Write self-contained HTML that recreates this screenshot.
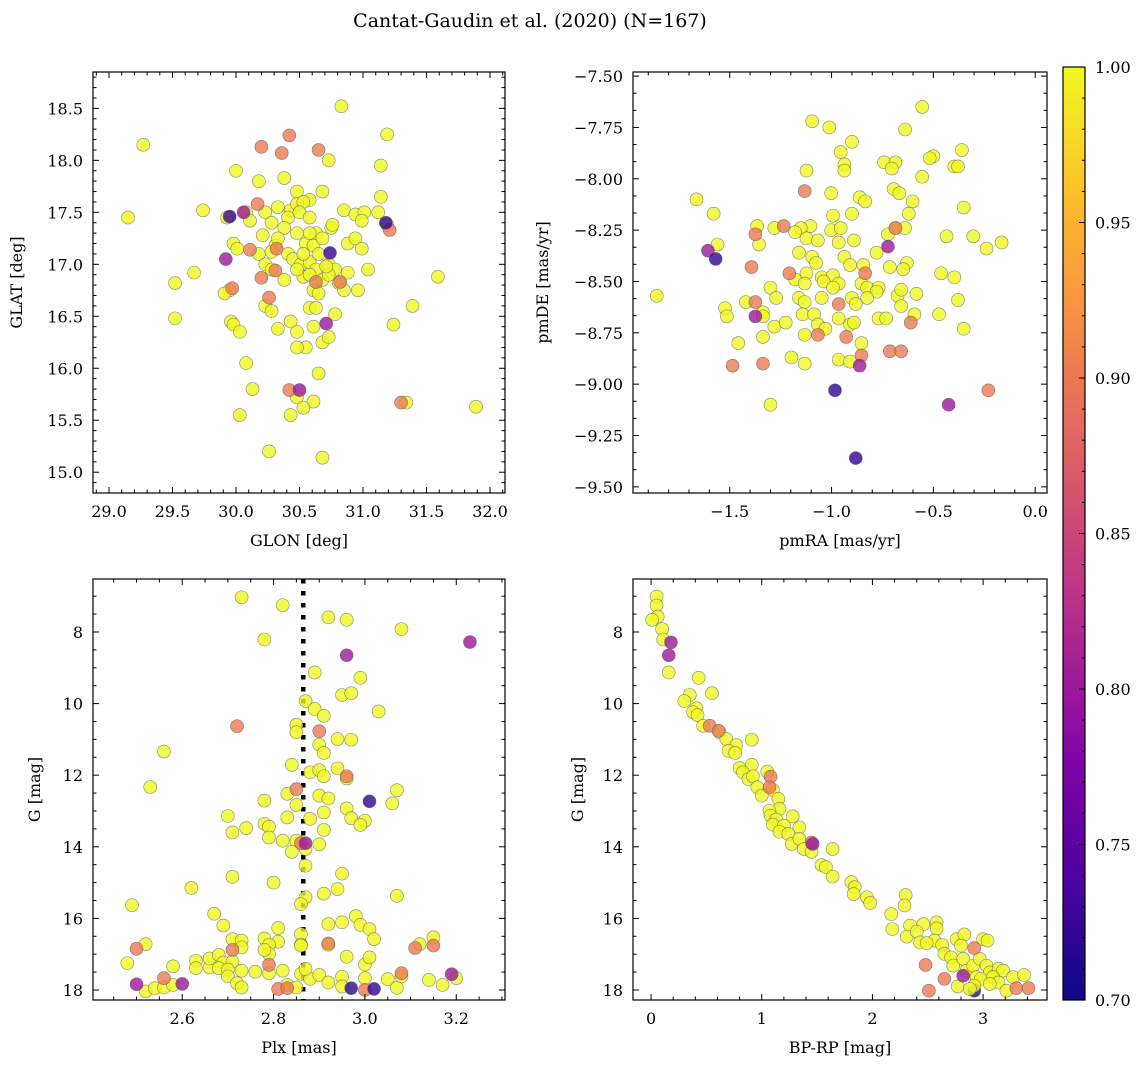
<!DOCTYPE html>
<html><head><meta charset="utf-8"><style>
html,body{margin:0;padding:0;background:#fff}
svg{display:block;font-family:"DejaVu Serif","Liberation Serif",serif}
</style></head><body>
<svg id="fig" width="1148" height="1067" viewBox="0 0 1148 1067" xmlns="http://www.w3.org/2000/svg">
<defs>
<linearGradient id="plasmaGrad" x1="0" y1="1" x2="0" y2="0">
<stop offset="0" stop-color="#0d0887"/><stop offset="0.125" stop-color="#4c02a1"/><stop offset="0.25" stop-color="#7e03a8"/><stop offset="0.375" stop-color="#a92395"/><stop offset="0.5" stop-color="#cc4778"/><stop offset="0.625" stop-color="#e56b5d"/><stop offset="0.75" stop-color="#f89540"/><stop offset="0.875" stop-color="#fdc328"/><stop offset="1" stop-color="#f0f921"/>
</linearGradient>
</defs>
<text x="530" y="27" font-size="19" text-anchor="middle">Cantat-Gaudin et al. (2020) (N=167)</text>
</svg>
<script>
// ---------- data ----------
const probHigh = 1.0, probMid = 0.9, probLow = 0.8, probVeryLow = 0.72;
const skyHigh = [[30.83,18.52],[29.27,18.15],[31.19,18.25],[30.73,18.0],[31.14,17.95],[30.0,17.9],[30.18,17.8],[30.38,17.83],[30.48,17.7],[30.68,17.7],[30.58,17.62],[31.14,17.65],[29.74,17.52],[29.15,17.45],[30.23,17.5],[30.33,17.55],[30.43,17.52],[30.48,17.58],[30.53,17.6],[30.41,17.45],[30.5,17.5],[30.58,17.45],[30.85,17.52],[30.94,17.48],[31.01,17.5],[31.12,17.5],[30.99,17.42],[31.19,17.38],[30.75,17.35],[30.63,17.3],[30.28,17.4],[30.38,17.35],[30.48,17.3],[30.55,17.2],[30.61,17.18],[30.68,17.25],[29.98,17.2],[30.01,17.15],[30.31,17.18],[30.41,17.1],[30.45,17.05],[30.51,17.0],[30.58,17.02],[30.63,16.95],[30.65,17.1],[30.73,17.0],[30.78,16.95],[30.88,17.2],[30.94,17.25],[30.99,17.15],[30.33,17.25],[30.18,17.1],[30.23,17.0],[30.28,16.95],[30.38,16.85],[30.53,16.88],[30.58,16.9],[30.68,16.85],[30.73,16.9],[30.81,16.82],[30.85,16.75],[30.96,16.75],[30.61,16.75],[30.65,16.72],[29.52,16.82],[29.67,16.92],[29.95,16.75],[29.91,16.72],[30.23,16.6],[30.28,16.55],[30.58,16.58],[30.63,16.58],[30.78,16.52],[31.24,16.42],[31.39,16.6],[29.52,16.48],[29.96,16.45],[29.98,16.42],[30.03,16.35],[30.33,16.38],[30.43,16.45],[30.48,16.35],[30.61,16.4],[30.55,16.2],[30.48,16.2],[30.68,16.25],[30.73,16.3],[30.08,16.05],[30.65,15.95],[30.13,15.8],[30.61,15.68],[30.48,15.72],[30.53,15.62],[31.34,15.67],[31.89,15.63],[30.03,15.55],[30.43,15.55],[30.26,15.2],[30.68,15.14],[30.76,17.38],[30.08,17.5],[31.59,16.88],[30.88,16.92],[31.04,16.95],[29.93,17.45],[30.11,17.42],[30.21,17.28],[30.28,17.12],[30.48,16.95],[30.53,17.1],[30.71,16.98],[30.58,17.3]];
const skyMid = [[30.2,18.13],[30.42,18.24],[30.36,18.07],[30.65,18.10],[30.17,17.58],[31.21,17.33],[30.11,17.14],[30.32,17.15],[30.31,16.94],[30.2,16.87],[29.97,16.77],[30.26,16.68],[30.82,16.83],[30.63,16.83],[30.42,15.79],[31.3,15.67]];
const skyLow = [[30.06,17.5],[29.92,17.05],[30.71,16.43],[30.5,15.79]];
const skyVeryLow = [[29.95,17.46],[30.74,17.11],[31.18,17.40]];

const pmHigh = [[-0.555,-7.65],[-1.095,-7.72],[-1.011,-7.75],[-0.639,-7.76],[-0.900,-7.82],[-0.955,-7.87],[-0.360,-7.86],[-0.500,-7.89],[-0.518,-7.90],[-0.742,-7.92],[-0.686,-7.92],[-0.937,-7.93],[-0.704,-7.95],[-0.937,-7.96],[-0.397,-7.94],[-0.379,-7.94],[-1.123,-7.96],[-0.555,-7.99],[-0.695,-8.05],[-0.667,-8.07],[-1.002,-8.07],[-1.663,-8.10],[-0.862,-8.09],[-0.835,-8.11],[-0.602,-8.11],[-0.351,-8.14],[-1.579,-8.17],[-0.993,-8.18],[-0.900,-8.17],[-0.621,-8.17],[-1.365,-8.23],[-1.281,-8.24],[-1.104,-8.23],[-1.151,-8.24],[-1.179,-8.26],[-1.002,-8.25],[-0.955,-8.24],[-0.723,-8.27],[-0.686,-8.24],[-0.639,-8.24],[-0.435,-8.28],[-0.304,-8.28],[-0.165,-8.31],[-0.239,-8.34],[-1.560,-8.32],[-1.356,-8.32],[-1.123,-8.29],[-1.067,-8.30],[-0.965,-8.31],[-0.890,-8.30],[-0.779,-8.36],[-1.160,-8.36],[-1.095,-8.38],[-1.076,-8.41],[-0.937,-8.38],[-0.909,-8.42],[-0.844,-8.42],[-0.630,-8.41],[-0.714,-8.43],[-0.648,-8.44],[-0.462,-8.46],[-0.397,-8.48],[-1.123,-8.46],[-1.179,-8.49],[-1.048,-8.48],[-0.993,-8.47],[-1.132,-8.51],[-1.039,-8.50],[-0.965,-8.51],[-0.993,-8.53],[-0.853,-8.51],[-0.825,-8.53],[-0.769,-8.53],[-0.779,-8.55],[-1.300,-8.53],[-1.272,-8.58],[-1.858,-8.57],[-1.421,-8.60],[-1.160,-8.58],[-1.132,-8.60],[-1.048,-8.58],[-0.900,-8.58],[-0.881,-8.61],[-0.825,-8.58],[-0.676,-8.57],[-0.658,-8.54],[-0.583,-8.56],[-0.379,-8.59],[-1.523,-8.63],[-1.514,-8.67],[-1.337,-8.65],[-1.337,-8.67],[-1.142,-8.66],[-1.086,-8.66],[-1.067,-8.71],[-1.030,-8.73],[-0.965,-8.68],[-0.909,-8.71],[-0.890,-8.70],[-0.769,-8.68],[-0.732,-8.68],[-0.593,-8.66],[-0.472,-8.66],[-0.658,-8.62],[-1.281,-8.72],[-1.225,-8.70],[-1.337,-8.77],[-1.132,-8.76],[-1.458,-8.80],[-0.853,-8.80],[-0.351,-8.73],[-1.197,-8.87],[-1.132,-8.90],[-0.965,-8.88],[-0.909,-8.89],[-1.300,-9.10]];
const pmMid = [[-1.132,-8.06],[-1.235,-8.23],[-1.374,-8.27],[-1.393,-8.43],[-1.207,-8.46],[-0.835,-8.46],[-1.374,-8.60],[-0.965,-8.61],[-1.067,-8.76],[-0.928,-8.77],[-0.611,-8.70],[-0.714,-8.84],[-0.658,-8.84],[-0.853,-8.86],[-1.486,-8.91],[-1.337,-8.90],[-0.230,-9.03],[-0.686,-8.24]];
const pmLow = [[-1.607,-8.35],[-0.723,-8.33],[-1.374,-8.67],[-0.862,-8.91],[-0.425,-9.10]];
const pmVeryLow = [[-1.569,-8.39],[-0.983,-9.03],[-0.881,-9.36]];

const plxHigh = [[2.73,7.03],[2.82,7.25],[2.92,7.59],[2.96,7.66],[3.08,7.92],[2.78,8.21],[2.89,9.13],[2.99,9.28],[2.95,9.76],[2.97,9.71],[2.87,9.93],[2.89,10.15],[2.91,10.34],[3.03,10.22],[2.85,10.59],[2.85,10.80],[2.94,10.99],[2.97,11.01],[2.56,11.34],[2.90,11.15],[2.91,11.38],[2.84,11.71],[2.94,11.81],[2.88,11.92],[2.90,11.86],[2.91,12.03],[2.96,12.09],[2.53,12.33],[2.83,12.52],[2.90,12.57],[2.92,12.65],[3.07,12.42],[3.06,12.79],[2.78,12.71],[2.85,12.83],[2.96,12.93],[2.91,13.04],[2.70,13.14],[2.83,13.18],[2.88,13.22],[2.97,13.20],[3.00,13.27],[2.99,13.39],[2.78,13.36],[2.79,13.44],[2.91,13.53],[2.71,13.60],[2.74,13.48],[2.79,13.74],[2.82,13.83],[2.85,13.83],[2.87,14.06],[2.84,14.14],[2.90,13.93],[2.87,14.53],[2.95,14.75],[2.71,14.84],[2.80,15.00],[2.62,15.15],[2.94,15.18],[2.91,15.31],[2.87,15.41],[3.07,15.37],[2.49,15.63],[2.86,15.60],[2.67,15.87],[2.98,15.94],[2.92,16.16],[2.95,16.11],[2.99,16.18],[3.01,16.30],[2.69,16.20],[2.81,16.27],[3.02,16.58],[2.71,16.58],[2.73,16.62],[2.78,16.56],[2.81,16.65],[2.86,16.44],[3.15,16.53],[2.52,16.72],[2.73,16.81],[2.79,16.74],[2.86,16.73],[2.92,16.74],[3.12,16.72],[2.48,17.25],[2.58,17.34],[2.63,17.18],[2.63,17.39],[2.66,17.37],[2.66,17.12],[2.68,17.02],[2.69,17.23],[2.68,17.39],[2.71,17.21],[2.70,17.43],[2.73,17.46],[2.70,17.62],[2.72,17.81],[2.73,17.93],[2.76,17.49],[2.79,17.53],[2.79,16.99],[2.82,17.46],[2.86,17.55],[2.88,17.69],[2.90,17.58],[2.96,17.07],[3.00,17.29],[3.01,17.09],[3.00,17.67],[3.05,17.70],[3.07,17.94],[3.08,17.62],[3.14,17.72],[3.17,17.86],[3.20,17.67],[2.52,18.04],[2.54,17.95],[2.56,17.93],[2.58,17.86],[2.83,17.86],[2.85,17.93],[2.92,17.79],[2.95,17.63],[2.95,17.90],[2.87,17.41],[2.86,16.76],[2.78,16.88]];
const plxMid = [[2.72,10.63],[2.90,10.77],[2.85,12.39],[2.96,12.03],[2.86,13.90],[2.71,16.88],[2.92,16.70],[3.11,16.83],[3.15,16.76],[2.50,16.85],[2.79,17.30],[2.56,17.67],[2.81,17.97],[2.83,17.95],[3.00,18.00],[3.08,17.53]];
const plxLow = [[2.96,8.65],[3.23,8.28],[2.87,13.90],[2.50,17.84],[2.60,17.83],[3.19,17.56]];
const plxVeryLow = [[3.01,12.73],[2.97,17.95],[3.02,17.97]];
const meanPlx = 2.865;

const cmdHigh = [[0.05,7.01],[0.05,7.26],[0.06,7.57],[0.01,7.66],[0.10,7.92],[0.11,8.21],[0.16,9.13],[0.43,9.28],[0.35,9.76],[0.55,9.71],[0.30,9.93],[0.41,10.13],[0.38,10.24],[0.42,10.32],[0.47,10.62],[0.62,10.80],[0.68,10.99],[0.77,11.16],[0.91,11.01],[0.70,11.32],[0.76,11.38],[0.80,11.80],[0.91,11.71],[0.83,11.92],[0.88,12.11],[0.92,12.03],[1.05,11.90],[0.96,12.34],[1.10,12.41],[1.00,12.57],[1.15,12.66],[1.16,12.94],[1.07,12.99],[1.08,13.13],[1.13,13.24],[1.28,13.15],[1.10,13.38],[1.20,13.41],[1.34,13.46],[1.16,13.58],[1.24,13.64],[1.27,13.92],[1.34,13.78],[1.38,14.06],[1.45,14.14],[1.64,14.06],[1.54,14.51],[1.58,14.57],[1.64,14.83],[1.81,14.99],[1.84,15.13],[1.83,15.32],[1.95,15.41],[1.98,15.57],[2.30,15.35],[2.29,15.64],[2.17,15.88],[2.18,16.30],[2.34,16.20],[2.46,16.16],[2.58,16.11],[2.58,16.28],[2.31,16.51],[2.40,16.37],[2.43,16.67],[2.56,16.62],[2.63,16.74],[2.65,16.99],[2.71,17.09],[2.76,16.58],[2.83,16.45],[3.00,16.58],[3.04,16.62],[2.80,16.76],[2.73,17.32],[2.82,17.13],[2.85,17.46],[2.91,17.32],[2.97,17.13],[3.03,17.32],[3.06,17.51],[3.14,17.41],[3.18,17.46],[2.94,17.64],[2.98,17.69],[3.09,17.64],[3.14,17.79],[2.92,17.88],[3.06,17.83],[3.21,18.02],[3.27,17.64],[3.37,17.58],[2.77,17.90],[2.88,17.97],[2.49,16.69]];
const cmdMid = [[0.53,10.62],[0.61,10.76],[1.08,12.04],[1.07,12.34],[2.92,16.83],[2.48,17.30],[2.65,17.69],[2.51,18.02],[3.30,17.95],[3.41,17.95],[1.45,13.88]];
const cmdLow = [[0.18,8.29],[0.16,8.65],[1.46,13.92],[2.82,17.60]];
const cmdVeryLow = [[2.92,18.02]];

const colorbarTicks = [0.70,0.75,0.80,0.85,0.90,0.95,1.00];

// ---------- helpers ----------
const NS = "http://www.w3.org/2000/svg";
const svg = document.getElementById('fig');
function mk(tag, attrs, parent){const e=document.createElementNS(NS,tag);for(const k in attrs)e.setAttribute(k,attrs[k]);(parent||svg).appendChild(e);return e;}
const plasma=[[0,13,8,135],[0.125,76,2,161],[0.25,126,3,168],[0.375,169,35,149],[0.5,204,71,120],[0.625,229,107,93],[0.75,248,149,64],[0.875,253,195,40],[1,240,249,33]];
function cmap(p){let t=(p-0.7)/0.3;t=Math.max(0,Math.min(1,t));for(let i=1;i<plasma.length;i++){if(t<=plasma[i][0]){const a=plasma[i-1],b=plasma[i];const f=(t-a[0])/(b[0]-a[0]);return `rgb(${Math.round(a[1]+f*(b[1]-a[1]))},${Math.round(a[2]+f*(b[2]-a[2]))},${Math.round(a[3]+f*(b[3]-a[3]))})`;}}return 'rgb(240,249,33)';}
function fmt(v,d){return v.toFixed(d).replace('-','\u2212');}

function panel(cfg){
  const {L,T,R,B,x0,x1,y0,y1}=cfg;
  const g=mk('g',{});
  
  
  const sx=v=>L+(v-x0)/(x1-x0)*(R-L);
  const sy=v=>T+(v-y0)/(y1-y0)*(B-T);
  const clipId='clip-'+cfg.name;
  const cp=mk('clipPath',{id:clipId},g);mk('rect',{x:L,y:T,width:R-L,height:B-T},cp);
  const pts=mk('g',{'clip-path':`url(#${clipId})`},g);
  
  
  if(cfg.vline!==undefined){
    const ln=mk('line',{x1:sx(cfg.vline),x2:sx(cfg.vline),y1:T,y2:B,stroke:'#000','stroke-width':4.5,'stroke-dasharray':'4.5 7.5'},pts);
    
    
  }
  cfg.groups.forEach(([arr,p])=>{
    arr.forEach(d=>{
      const c=mk('circle',{cx:sx(d[0]),cy:sy(d[1]),r:6.5,fill:cmap(p),'fill-opacity':0.8,stroke:'#555','stroke-opacity':0.7,'stroke-width':0.6},pts);
      
      
    });
  });
  const frame=mk('rect',{x:L,y:T,width:R-L,height:B-T,fill:'none',stroke:'#000','stroke-width':1.2},g);
  
  
  const tk=mk('g',{stroke:'#000','stroke-width':1},g);
  const eps=1e-9;
  const xlo=Math.min(x0,x1),xhi=Math.max(x0,x1),ylo=Math.min(y0,y1),yhi=Math.max(y0,y1);
  const xm=cfg.xmaj/cfg.xdiv, ym=cfg.ymaj/cfg.ydiv;
  for(let i=Math.ceil(xlo/xm-eps);i*xm<=xhi+eps;i++){
    const v=i*xm;
    const isMaj=Math.abs(v/cfg.xmaj-Math.round(v/cfg.xmaj))<1e-6;const len=isMaj?6:3.5;const X=sx(v);
    mk('line',{x1:X,x2:X,y1:B,y2:B-len},tk);mk('line',{x1:X,x2:X,y1:T,y2:T+len},tk);
    if(isMaj){const t=mk('text',{x:X,y:B+24,'font-size':16,'text-anchor':'middle',stroke:'none',fill:'#000'},g);t.textContent=fmt(Math.round(v/cfg.xmaj)*cfg.xmaj,cfg.xdec);
      }
  }
  for(let i=Math.ceil(ylo/ym-eps);i*ym<=yhi+eps;i++){
    const v=i*ym;
    const isMaj=Math.abs(v/cfg.ymaj-Math.round(v/cfg.ymaj))<1e-6;const len=isMaj?6:3.5;const Y=sy(v);
    mk('line',{x1:L,x2:L+len,y1:Y,y2:Y},tk);mk('line',{x1:R,x2:R-len,y1:Y,y2:Y},tk);
    if(isMaj){const t=mk('text',{x:L-10,y:Y+6,'font-size':16,'text-anchor':'end',stroke:'none',fill:'#000'},g);t.textContent=fmt(Math.round(v/cfg.ymaj)*cfg.ymaj,cfg.ydec);
      }
  }
  const xl=mk('text',{x:(L+R)/2,y:B+53,'font-size':16,'text-anchor':'middle'},g);xl.textContent=cfg.xlabel;
  
  const yx=cfg.ylabelX;const yc=(T+B)/2;
  const yl=mk('text',{x:yx,y:yc,'font-size':16,'text-anchor':'middle',transform:`rotate(-90 ${yx} ${yc})`},g);yl.textContent=cfg.ylabel;
  
}

panel({name:'sky-panel',L:93,T:72,R:505,B:493,x0:28.874,x1:32.118,y0:18.85,y1:14.80,xmaj:0.5,xdiv:5,ymaj:0.5,ydiv:5,xdec:1,ydec:1,xlabel:'GLON [deg]',ylabel:'GLAT [deg]',ylabelX:22,
  groups:[[skyHigh,probHigh],[skyMid,probMid],[skyLow,probLow],[skyVeryLow,probVeryLow]]});
panel({name:'proper-motion-panel',L:633,T:72,R:1047,B:493,x0:-1.975,x1:0.058,y0:-7.48,y1:-9.53,xmaj:0.5,xdiv:5,ymaj:0.25,ydiv:3,xdec:1,ydec:2,xlabel:'pmRA [mas/yr]',ylabel:'pmDE [mas/yr]',ylabelX:548,
  groups:[[pmHigh,probHigh],[pmMid,probMid],[pmLow,probLow],[pmVeryLow,probVeryLow]]});
panel({name:'parallax-panel',L:93,T:579,R:505,B:1000,x0:2.4047,x1:3.3067,y0:6.52,y1:18.28,xmaj:0.2,xdiv:4,ymaj:2,ydiv:4,xdec:1,ydec:0,xlabel:'Plx [mas]',ylabel:'G [mag]',ylabelX:40,vline:meanPlx,
  groups:[[plxHigh,probHigh],[plxMid,probMid],[plxLow,probLow],[plxVeryLow,probVeryLow]]});
panel({name:'cmd-panel',L:633,T:579,R:1047,B:1000,x0:-0.163,x1:3.577,y0:6.52,y1:18.28,xmaj:1,xdiv:5,ymaj:2,ydiv:4,xdec:0,ydec:0,xlabel:'BP-RP [mag]',ylabel:'G [mag]',ylabelX:583,
  groups:[[cmdVeryLow,probVeryLow],[cmdHigh,probHigh],[cmdMid,probMid],[cmdLow,probLow]]});

// colorbar
const cb=mk('g',{});


const cbL=1063,cbR=1085,cbT=67,cbB=1000;
mk('rect',{x:cbL,y:cbT,width:cbR-cbL,height:cbB-cbT,fill:'url(#plasmaGrad)',stroke:'#000','stroke-width':1.2},cb);
const cy=v=>cbB-(v-0.7)/0.3*(cbB-cbT);
for(let i=70;i<=100;i++){const Y=cy(i/100);mk('line',{x1:cbR,x2:cbR-3,y1:Y,y2:Y,stroke:'#000','stroke-width':1},cb);}
colorbarTicks.forEach(v=>{const Y=cy(v);mk('line',{x1:cbR,x2:cbR-6,y1:Y,y2:Y,stroke:'#000','stroke-width':1},cb);
  const t=mk('text',{x:cbR+10,y:Y+6,'font-size':16},cb);t.textContent=v.toFixed(2);
  });
</script>
</body></html>
